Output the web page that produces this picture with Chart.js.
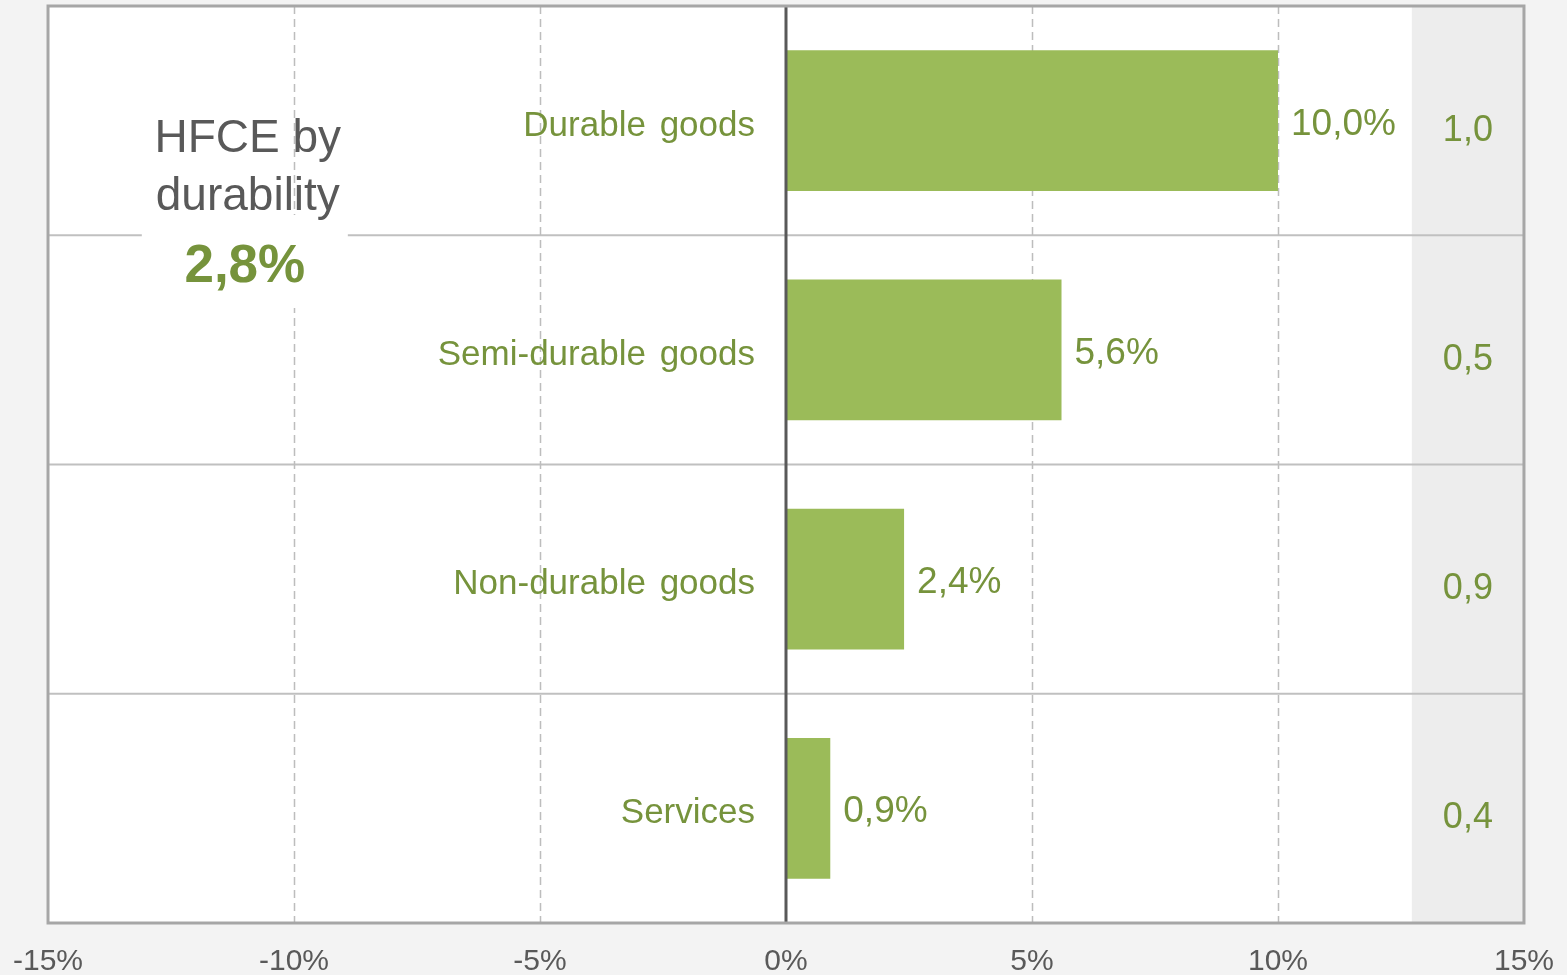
<!DOCTYPE html>
<html>
<head>
<meta charset="utf-8">
<script src="https://cdn.jsdelivr.net/npm/chart.js@4.4.1/dist/chart.umd.min.js"></script>
<style>
  body { margin: 0; background: #f3f3f3; }
  #wrap { width: 1567px; height: 975px; }
</style>
</head>
<body>
<div id="wrap"><canvas id="hfceChart" width="1567" height="975"></canvas></div>
<script>
// data
const categories = ['Durable goods', 'Semi-durable goods', 'Non-durable goods', 'Services'];
const growthRates = [10.0, 5.6, 2.4, 0.9];
const contributions = [1.0, 0.5, 0.9, 0.4];
const xTicks = [-15, -10, -5, 0, 5, 10, 15];
const totalGrowth = 2.8;
const titleLines = ['HFCE by', 'durability'];

const FONT = "'Liberation Sans', Arial, sans-serif";
const GREEN_TEXT = '#76933c';
const bandStart = 12.72; // grey column for contributions
const titleAt = -11.0;

function fmt(v, digits) {
  return v.toFixed(digits).replace('.', ',');
}

const decorations = {
  id: 'decorations',
  beforeDatasetsDraw(chart) {
    const { ctx, chartArea: a, scales: { x, y } } = chart;
    ctx.save();
    ctx.fillStyle = '#ffffff';
    ctx.fillRect(a.left, a.top, a.width, a.height);

    const bandLeft = x.getPixelForValue(bandStart);
    ctx.fillStyle = '#ededed';
    ctx.fillRect(bandLeft, a.top, a.right - bandLeft, a.height);

    // row separators
    ctx.strokeStyle = '#c0c0c0';
    ctx.lineWidth = 2;
    for (let i = 0; i < categories.length - 1; i++) {
      const yy = (y.getPixelForValue(i) + y.getPixelForValue(i + 1)) / 2;
      ctx.beginPath();
      ctx.moveTo(a.left, yy);
      ctx.lineTo(a.right, yy);
      ctx.stroke();
    }

    // dashed vertical gridlines
    ctx.strokeStyle = '#bdbdbd';
    ctx.lineWidth = 1.5;
    ctx.setLineDash([8, 5]);
    xTicks.forEach(v => {
      if (v === 0 || v <= x.min || v >= x.max) return;
      const xx = Math.round(x.getPixelForValue(v)) + 0.5;
      ctx.beginPath();
      ctx.moveTo(xx, a.top);
      ctx.lineTo(xx, a.bottom);
      ctx.stroke();
    });
    ctx.setLineDash([]);

    // white box behind the total
    const cx = x.getPixelForValue(titleAt);
    ctx.fillStyle = '#ffffff';
    ctx.fillRect(cx - 103, a.top + 209, 206, 93);
    ctx.restore();
  },
  afterDatasetsDraw(chart) {
    const { ctx, chartArea: a, scales: { x, y } } = chart;
    ctx.save();

    // zero line
    const x0 = x.getPixelForValue(0);
    ctx.strokeStyle = '#595959';
    ctx.lineWidth = 3;
    ctx.beginPath();
    ctx.moveTo(x0, a.top);
    ctx.lineTo(x0, a.bottom);
    ctx.stroke();

    // frame
    ctx.strokeStyle = '#a6a6a6';
    ctx.lineWidth = 3;
    ctx.strokeRect(a.left, a.top, a.width, a.height);

    ctx.textBaseline = 'alphabetic';
    ctx.fillStyle = GREEN_TEXT;

    // category labels left of zero
    ctx.font = '35px ' + FONT;
    ctx.textAlign = 'right';
    ctx.wordSpacing = '4px';
    categories.forEach((c, i) => {
      ctx.fillText(c, x0 - 31, y.getPixelForValue(i) + 15);
    });
    ctx.wordSpacing = '0px';

    // value labels
    ctx.font = '37px ' + FONT;
    ctx.textAlign = 'left';
    const meta = chart.getDatasetMeta(0);
    growthRates.forEach((v, i) => {
      const bar = meta.data[i];
      ctx.fillText(fmt(v, 1) + '%', bar.x + 13, bar.y + 14);
    });

    // contributions column
    const bandMid = (x.getPixelForValue(bandStart) + a.right) / 2;
    ctx.font = '36px ' + FONT;
    ctx.textAlign = 'center';
    contributions.forEach((v, i) => {
      ctx.fillText(fmt(v, 1), bandMid, y.getPixelForValue(i) + 20);
    });

    // title
    const cx = x.getPixelForValue(titleAt);
    ctx.fillStyle = '#595959';
    ctx.font = '46px ' + FONT;
    ctx.fillText(titleLines[0], cx + 3, a.top + 146);
    ctx.fillText(titleLines[1], cx + 3, a.top + 204);
    ctx.fillStyle = GREEN_TEXT;
    ctx.font = 'bold 53px ' + FONT;
    ctx.fillText(fmt(totalGrowth, 1) + '%', cx, a.top + 276);

    ctx.restore();
  }
};

const ctx = document.getElementById('hfceChart').getContext('2d');
const chart = new Chart(ctx, {
  type: 'bar',
  data: {
    labels: categories,
    datasets: [{
      data: growthRates,
      backgroundColor: '#9bbb59',
      borderWidth: 0,
      categoryPercentage: 0.615,
      barPercentage: 1
    }]
  },
  options: {
    indexAxis: 'y',
    responsive: false,
    animation: false,
    devicePixelRatio: 1,
    layout: {
      padding: { left: 41, right: 36, top: 6, bottom: 0 }
    },
    plugins: {
      legend: { display: false },
      tooltip: { enabled: false }
    },
    scales: {
      x: {
        min: -15,
        max: 15,
        grid: { display: false },
        border: { display: false },
        afterBuildTicks: scale => {
          scale.ticks = xTicks.map(v => ({ value: v }));
        },
        afterFit: scale => {
          scale.height = 52;
        },
        ticks: {
          padding: 13,
          maxRotation: 0,
          color: '#595959',
          font: { family: FONT, size: 30 },
          callback: v => v + '%'
        }
      },
      y: {
        display: false
      }
    }
  },
  plugins: [decorations]
});
</script>
</body>
</html>
